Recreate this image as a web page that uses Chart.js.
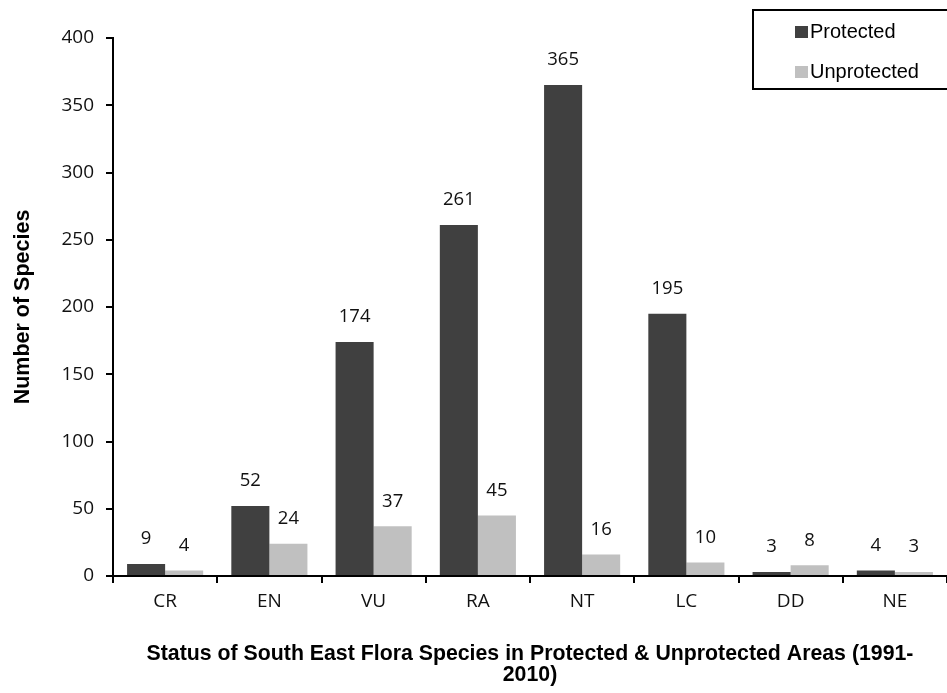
<!DOCTYPE html>
<html>
<head>
<meta charset="utf-8">
<script src="https://cdn.jsdelivr.net/npm/chart.js@4"></script>
<style>
html,body{margin:0;padding:0;background:#fff;}
#wrap{width:947px;height:693px;position:relative;}
</style>
</head>
<body>
<div id="wrap"><canvas id="c"></canvas></div>
<script>
const categories = ['CR','EN','VU','RA','NT','LC','DD','NE'];
const protectedVals = [9,52,174,261,365,195,3,4];
const unprotectedVals = [4,24,37,45,16,10,8,3];
const yTicks = [0,50,100,150,200,250,300,350,400];
const seriesNames = ['Protected','Unprotected'];
const xTitle = ['Status of South East Flora Species in Protected & Unprotected Areas (1991-','2010)'];
const yTitle = 'Number of Species';

const valueLabels = {
  id:'valueLabels',
  afterDatasetsDraw(chart){
    const ctx = chart.ctx;
    ctx.save();
    ctx.font = '18.5px "Open Sans"';
    ctx.fillStyle = '#111';
    ctx.textAlign = 'center';
    ctx.textBaseline = 'middle';
    chart.data.datasets.forEach((ds,i)=>{
      chart.getDatasetMeta(i).data.forEach((el,j)=>{
        ctx.fillText(String(ds.data[j]), el.x, el.y - 25);
      });
    });
    ctx.restore();
  }
};

const boxLegend = {
  id:'boxLegend',
  afterDraw(chart){
    const ctx = chart.ctx;
    ctx.save();
    ctx.strokeStyle = '#000';
    ctx.lineWidth = 2;
    ctx.strokeRect(753, 10, 200, 79);
    ctx.font = '20px "Liberation Sans"';
    ctx.textBaseline = 'middle';
    ctx.textAlign = 'left';
    const ys = [32, 72];
    chart.data.datasets.forEach((ds,i)=>{
      ctx.fillStyle = ds.backgroundColor;
      ctx.fillRect(795, ys[i]-6, 13, 12);
      ctx.fillStyle = '#000';
      ctx.fillText(ds.label, 810, ys[i]);
    });
    ctx.restore();
  }
};

new Chart(document.getElementById('c'), {
  type:'bar',
  data:{
    labels:categories,
    datasets:[
      {label:seriesNames[0], data:protectedVals, backgroundColor:'#404040', categoryPercentage:0.73, barPercentage:1.0},
      {label:seriesNames[1], data:unprotectedVals, backgroundColor:'#c0c0c0', categoryPercentage:0.73, barPercentage:1.0}
    ]
  },
  plugins:[valueLabels, boxLegend],
  options:{
    responsive:true,
    maintainAspectRatio:false,
    animation:false,
    layout:{padding:{top:38,left:0,right:0,bottom:0}},
    plugins:{legend:{display:false}, tooltip:{enabled:false}},
    scales:{
      x:{
        afterFit(s){ s.height = 693 - 576; },
        grid:{drawOnChartArea:false, drawTicks:true, tickLength:7, color:'#000', lineWidth:2, offset:true},
        border:{display:true, color:'#000', width:2},
        ticks:{color:'#111', font:{family:'Open Sans', size:19}, padding:7},
        title:{display:true, text:xTitle, color:'#000', font:{family:'Liberation Sans', size:21.3, weight:'bold', lineHeight:1.0}, padding:{top:0,bottom:7}}
      },
      y:{
        min:0, max:400,
        afterFit(s){ s.width = 113; },
        afterBuildTicks(s){ s.ticks = yTicks.map(v=>({value:v})); },
        grid:{drawOnChartArea:false, drawTicks:true, tickLength:7, color:'#000', lineWidth:2},
        border:{display:true, color:'#000', width:2},
        ticks:{color:'#111', font:{family:'Open Sans', size:19}, padding:12},
        title:{display:true, text:yTitle, color:'#000', font:{family:'Liberation Sans', size:21.5, weight:'bold', lineHeight:1.2}, padding:{top:10,bottom:0}}
      }
    }
  }
});
</script>
</body>
</html>
